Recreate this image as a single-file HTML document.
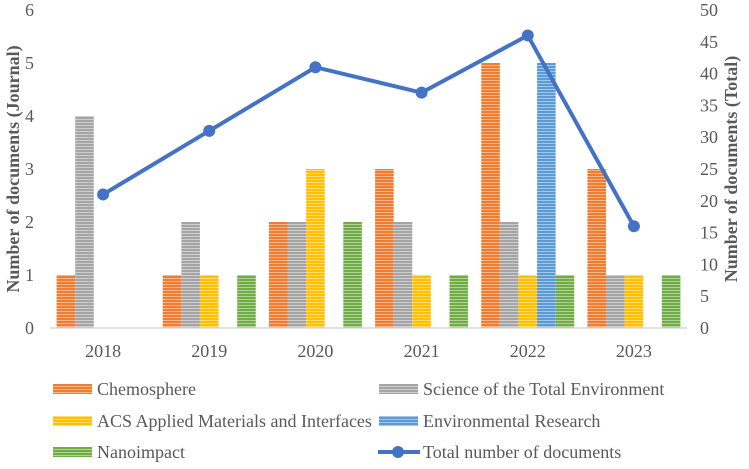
<!DOCTYPE html>
<html><head><meta charset="utf-8"><style>
body{margin:0;background:#fff}
svg text{font-family:"Liberation Serif",serif;fill:#595959}
</style></head><body>
<svg id="c" width="749" height="464">
<defs id="defs"></defs>
<g id="plot"></g>
</svg>
<script>
const categories=["2018","2019","2020","2021","2022","2023"];
const seriesNames=["Chemosphere","Science of the Total Environment","ACS Applied Materials and Interfaces","Environmental Research","Nanoimpact"];
const chemosphere=[1,1,2,3,5,3];
const scienceTotal=[4,2,2,2,2,1];
const acsAmi=[0,1,3,1,1,1];
const envResearch=[0,0,0,0,5,0];
const nanoimpact=[0,1,2,1,1,1];
const totalDocs=[21,31,41,37,46,16];
const leftTicks=[0,1,2,3,4,5,6];
const rightTicks=[0,5,10,15,20,25,30,35,40,45,50];
const colors=["#ED7D31","#A5A5A5","#FFC000","#5B9BD5","#70AD47"];
const series=[chemosphere,scienceTotal,acsAmi,envResearch,nanoimpact];
const NS="http://www.w3.org/2000/svg";
const X0=50,X1=687,Y0=328,Y1=10;
const FS=18;
const yL=v=>Y0-(v/6)*(Y0-Y1);
const yR=v=>Y0-(v/50)*(Y0-Y1);
const gw=(X1-X0)/categories.length;
const xC=i=>X0+gw*(i+0.5);
const bw=18.6;
const svg=document.getElementById('c'),plot=document.getElementById('plot'),defs=document.getElementById('defs');
function mk(t,a,p){const e=document.createElementNS(NS,t);for(const k in a)e.setAttribute(k,a[k]);(p||plot).appendChild(e);return e;}
colors.forEach((c,i)=>{
 const p=mk('pattern',{id:'p'+i,width:4,height:3,patternUnits:'userSpaceOnUse'},defs);
 mk('rect',{width:4,height:3,fill:c},p);
 mk('rect',{y:2,width:4,height:1,fill:'#fff','fill-opacity':0.45},p);
});
leftTicks.forEach(v=>{const t=mk('text',{x:34,y:yL(v)+6,'font-size':FS,'text-anchor':'end'});t.textContent=v;

});
rightTicks.forEach(v=>{const t=mk('text',{x:700,y:yR(v)+6,'font-size':FS});t.textContent=v;

});
series.forEach((s,si)=>{s.forEach((v,i)=>{if(!v)return;
 const x=xC(i)-2.5*bw+si*bw;
 const r=mk('rect',{x:x,y:yL(v),width:bw,height:Y0-yL(v),fill:'url(#p'+si+')'});
 
 
});});
const ax=mk('line',{x1:X0,x2:X1,y1:Y0,y2:Y0,stroke:'#d9d9d9','stroke-width':1.5});


categories.forEach((c,i)=>{const t=mk('text',{x:xC(i),y:357,'font-size':FS,'text-anchor':'middle'});t.textContent=c;

});
const ln=mk('polyline',{points:totalDocs.map((v,i)=>xC(i)+','+yR(v)).join(' '),fill:'none',stroke:'#4472C4','stroke-width':4});


totalDocs.forEach((v,i)=>{const m=mk('circle',{cx:xC(i),cy:yR(v),r:6,fill:'#4472C4'});

});
const yt=mk('text',{transform:'translate(19,169) rotate(-90)','text-anchor':'middle','font-size':FS,'font-weight':'bold'});yt.textContent='Number of documents (Journal)';


const yt2=mk('text',{transform:'translate(737,169) rotate(-90)','text-anchor':'middle','font-size':FS,'font-weight':'bold'});yt2.textContent='Number of documents (Total)';


const leg=[[0,53,389],[1,379,389],[2,53,421],[3,379,421],[4,53,452]];
leg.forEach(([si,x,y])=>{
 const r=mk('rect',{x:x,y:y-5,width:39,height:10,fill:'url(#p'+si+')'});
 
 
 const t=mk('text',{x:x+44,y:y+6,'font-size':FS});t.textContent=seriesNames[si];
 
 
});
const ll=mk('line',{x1:378,x2:420,y1:452,y2:452,stroke:'#4472C4','stroke-width':4});


const lc=mk('circle',{cx:398,cy:452,r:6,fill:'#4472C4'});


const lt=mk('text',{x:423,y:458,'font-size':FS});lt.textContent='Total number of documents';


</script>
</body></html>
